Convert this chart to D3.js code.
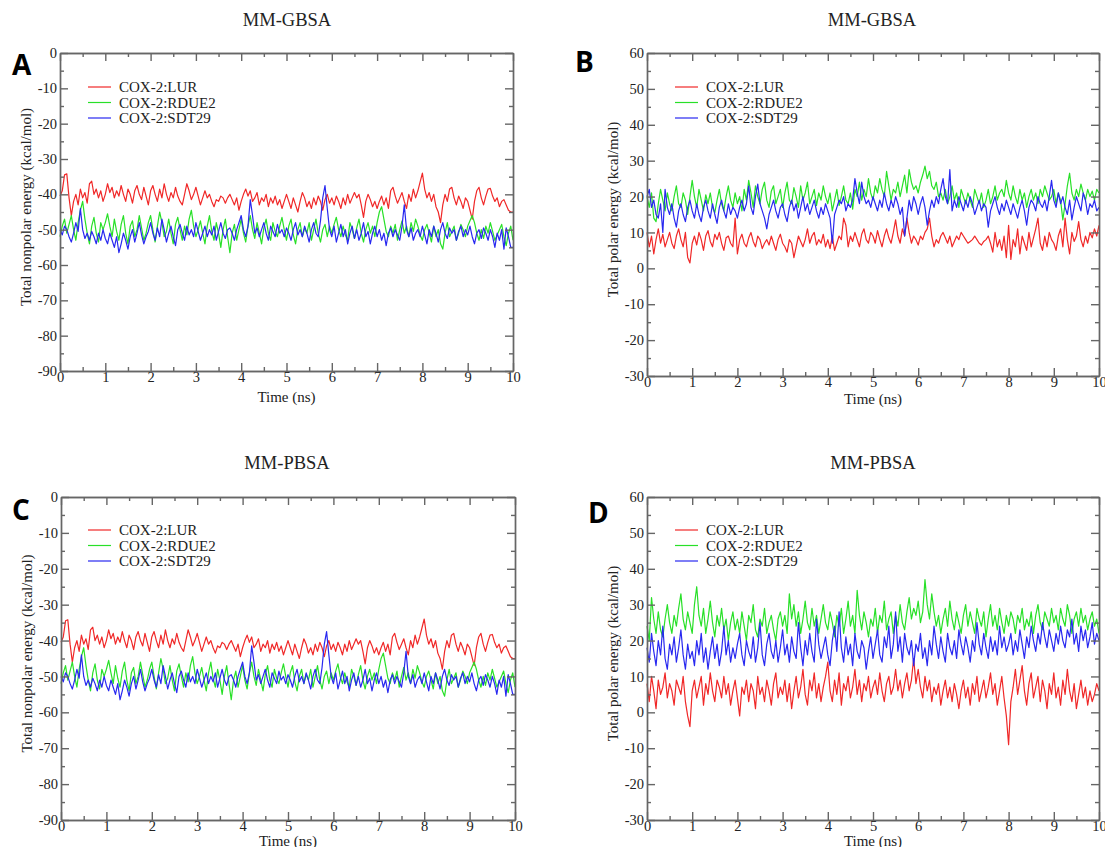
<!DOCTYPE html>
<html>
<head>
<meta charset="utf-8">
<script src="https://cdn.jsdelivr.net/npm/d3@7"></script>
<style>
  body { margin: 0; background: #fff; }
  svg text { font-family: "Liberation Serif", "Times New Roman", serif; fill: #222; }
  .panel-letter { font-family: "Open Sans", "DejaVu Sans", sans-serif !important; font-weight: 700; fill: #000 !important; }
</style>
</head>
<body>
<svg id="chart" width="1105" height="847"></svg>
<script>
// frames every 0.05 ns, 0..10 ns
const STEP_NS = 0.05;
const seriesNames = ["COX-2:LUR", "COX-2:RDUE2", "COX-2:SDT29"];
const seriesColors = ["#f02828", "#28e028", "#2828f0"];

// nonpolar energy (same term for GBSA and PBSA)
const nonpolarLur = [
  -40.5,-39,-34.5,-34.2,-41,-46,-42,-40,-43,-38.5,-41,-39.5,-42.5,-37,-36.3,-40,-38.5,-41,-39,-42,
  -40,-37,-39.5,-38,-41,-39,-40.5,-37.5,-40,-42,-38.5,-40,-42.5,-39,-37.5,-40,-41.5,-38,-40.5,-43,
  -39,-37.5,-40,-42,-38.5,-41,-37,-40,-42,-39.5,-41,-38,-40.5,-42,-43,-40,-37,-39,-41.5,-40,
  -38,-40.5,-43,-41,-39,-41,-40,-42,-43.5,-41.5,-42,-40.5,-41,-42.5,-41,-40,-41.5,-43,-41,-44.5,
  -42,-40,-38.5,-40.5,-39,-42,-41,-39.5,-43,-41,-42,-40,-43.5,-41,-42.5,-40.5,-43,-41.5,-44,-42,
  -40,-42,-44,-41,-43,-45,-42,-39.5,-41,-43.5,-42,-44,-41,-43,-40.5,-42,-44.5,-41.5,-40,-42.5,
  -41,-43,-40.5,-42,-44,-41,-43,-40,-42.5,-41,-39.5,-41,-40,-43,-46.5,-42,-40,-41.5,-43.5,-42,
  -44,-42,-40.5,-43,-41,-44,-39,-38,-40.5,-42.5,-41,-39.5,-42,-44,-40,-42,-38.5,-41,-39,-36.5,
  -34,-38.5,-41,-39.5,-42,-40,-43.5,-45,-48,-43,-40,-42,-38.5,-38,-41,-43,-40.5,-42,-44,-41,
  -42,-44.5,-47,-42,-39,-38,-41,-43,-40.5,-38.5,-38.3,-40.5,-42,-41,-43.5,-42,-41.5,-43,-44.5,-45,-45
];
const nonpolarRdue2 = [
  -52,-49,-47,-51,-48.5,-46,-50,-53,-48,-44.5,-42,-47,-51,-54,-49,-46.5,-51,-53.5,-48,-50,
  -48,-45.5,-49,-52,-47,-50.5,-53,-48.5,-46,-51,-54,-49,-47.5,-52,-50,-46,-49.5,-53,-51,-48,
  -46,-50,-53.5,-49,-45,-48,-52,-50.5,-47,-51,-54,-48.5,-46.5,-50,-53,-49,-51.5,-47,-44.5,-49,
  -52,-50,-47.5,-51,-54,-49,-46,-50.5,-53,-48,-51,-55,-50,-47,-52,-56.5,-51,-48.5,-53,-50,
  -47,-51,-53.5,-49,-46,-50,-52.5,-48,-51,-54,-49.5,-47,-51,-53,-48,-50.5,-52,-49,-46.5,-50,
  -53,-49,-47,-51.5,-54,-50,-48,-52,-49.5,-51,-48,-53,-50,-47,-51,-53.5,-50,-48.5,-52,-49,
  -51,-48.5,-46.5,-50,-52,-49,-51.5,-53,-48,-50,-52.5,-49.5,-47,-51,-53.5,-50,-48,-51,-49,-52,
  -48,-45,-43.5,-47,-50.5,-52,-49,-51,-48.5,-53,-50,-47.5,-51,-49,-52,-48,-50.5,-47,-49,-51.5,
  -53,-50,-48.5,-51,-53.5,-49,-52,-50,-54,-55.5,-51,-48,-52,-50.5,-49,-53,-51,-48.5,-50,-52,
  -49,-47.5,-46,-48,-51,-53,-50,-52.5,-49,-51,-48,-50.5,-53,-51.5,-50,-48.5,-52,-54.5,-51,-49,-53
];
const nonpolarSdt29 = [
  -50,-51.5,-49,-50,-52,-53.5,-51,-48,-50.5,-44,-50,-52.5,-51,-53,-50.5,-52,-54,-51,-53,-50,
  -52.5,-54,-51,-53,-55,-52,-56.5,-54,-51,-53,-55.5,-52,-50,-53.5,-51,-48,-51.5,-54,-52,-50.5,
  -48,-51,-53,-49.5,-52,-47,-50,-53.5,-51,-49,-52,-54.5,-50,-48.5,-51,-53,-49,-51.5,-50,-52,
  -48,-50.5,-53,-51,-49,-52,-50,-51.5,-49,-53,-50.5,-48,-51,-52.5,-50,-49.5,-51,-53,-50,-48,
  -46,-50,-52,-49,-41.5,-46,-51,-49.5,-52,-50,-48,-51,-53,-49,-50.5,-52,-48.5,-51,-50,-52,
  -49.5,-51,-53,-50,-48,-51.5,-50,-52,-49,-51,-53.5,-50,-48,-51,-52,-47.5,-41,-37.5,-44,-50,
  -52,-49,-53.5,-51,-48.5,-52,-50,-54,-51,-49,-52.5,-50,-53,-51,-48,-52,-50.5,-54,-51,-49,
  -52,-50,-53,-51,-54.5,-51,-49.5,-52,-50,-51.5,-53,-49,-43,-50,-52,-49.5,-53,-51,-50,-52,
  -49,-51.5,-54,-50,-52,-49,-51,-53.5,-50,-48,-51,-52.5,-49.5,-51,-50,-53,-50.5,-49,-52,-50,
  -51.5,-49,-52,-54,-51,-50,-52.5,-49.5,-51,-53,-50,-52,-55,-51,-53,-50,-55.5,-49.5,-52,-55,-55
];

// polar energy, MM-GBSA
const gbPolarLur = [
  10,6,9,4,8,11,7,9.5,6,8,10,7,5.5,9,11,8,6,10,3,1.5,
  7,9,6.5,10,8,5,9,10.5,7.5,6,9.5,8,10,7,5,8.5,9,7,6,14,
  4,8,9.5,7,6,8.5,10,7.5,6,9,8,5.5,7,8,6.5,9,7,5,8,9.5,
  7,6,4.5,8,7,3,6,9,7.5,6,8,11,7,9,10,6.5,8,7,9.5,6,
  8,5.5,9,5,7,9,8,14,12,6,9,7.5,10,8,6,9.5,11,8,7,10,
  9,7,10.5,8,6,9,11,8.5,7,10,13.5,9,7,11,9,14,10,7,9,8,
  6.5,9,8,10,11,14,9,6,8,7,9,10,8.5,7,9,6,7.5,9,8,10,
  9,8,7,7.5,8,9,8,7,6.5,7.5,8,9,7,4.5,10,6,8,5,9,3,
  12,2.5,8,6,11,4,9,7,5,10,6,8.5,11,14,7,5,9,6,10,8,
  7,5,9,11,6,14,8,4,10,7.5,9,13,8,6,9,7,10,8.5,11,9,12
];
const gbPolarRdue2 = [
  20,17,21,14,13,18,22,19,16,21,18,16,20,23,18,17,21,19,15,20,
  24.5,20,17,22,19,16,20.5,18,21,17,15.5,19,22,18,16,20,23,19,17,21,
  18,20,16,22,19,24.5,21,17,23,20,18,22,24,19,17,21.5,23,18,20,22,
  17,21,24,19,18,22.5,20,17,23,19,21,24,18,20,22,17.5,21,19,23,20,
  18,21,16,19,22,17.5,20,23,19,18,21,16.5,22,20,24,19,22,20,25,21,
  19,23,21,25,22,20,27,23,19,22,21,24,20,23,26,21,27.5,24,22,23,
  21,24,26,28.5,25,27,23,22,24,20,21,19,22,18,20,23,19,21,17,22,
  20,18,21,19,17,22,20,18,21,17,19,22,18,20,23,19,21,22,20,24.5,
  21,19,23,20,18,22,19,21,17,20,22,19,21,18,22,20,23,21,19,20,
  22,18,21,19,13.5,18,23,26.5,21,19,22,20,23.5,21,19,22,20,21.5,19,22,21
];
const gbPolarSdt29 = [
  20,22,17,19,15,14,18,10,22,17,15,18,14,11.5,16,18,15,13,17,19,
  16,14,18,15,13,17,19,16,14,18,15,12.5,17,19,16,14,18,15,17,16,
  14,17,19,16,18,23,17,15,20,23.5,18,16,14,11,15,17,19,16,14,17,
  18,15,13,17,19,16,18,14,17,20,16,18,15,17,19,16,14,17,15,18,
  16,14,7,15,17,19,18,20,16,18,17,19,25,21,18,24,20,18,19,17,
  20,18,16,19,17,21,18,16,19,17,20,18,15,17,9,14,19,16,20,18,
  15,18,20,17,12,16,19,17,20,18,22,25,20,18,27.5,16,19,17,20,18,
  16,19,17,20,18,15,17,19,16,18,17,11.5,16,18,20,17,15,18,16,19,
  17,15,18,16,14,17,19,16,12,17,19,18,16,20,18,17,19,16,20,24.5,
  19,17,21,18,20,17,15,19,13.5,17,20,18,16,21,19,15,18,17,19,16,17
];

// polar energy, MM-PBSA
const pbPolarLur = [
  8,3,10,6,1,9,5,7,11,4,8,6,2,9,7,5,10,3,-1,-4,
  6,9,4,7,10,2,8,5,11,6,3,9,7,4,10,5,8,2,6,9,
  4,-1,7,5,9,3,8,6,1,10,5,7,3,9,6,2,8,11,4,7,
  5,9,3,8,1,6,10,4,7,12,5,2,9,6,11,4,8,3,7,10,
  14,6,3,9,5,11,2,8,6,10,4,7,12,5,9,3,8,6,10,4,
  7,9,5,11,6,3,8,10,5,7,12,6,9,4,8,11,6,9,15,8,
  12,7,4,10,6,9,3,7,5,8,2,6,9,4,7,3,8,5,1,6,
  9,4,7,2,8,5,10,3,6,9,4,7,11,5,8,2,6,10,4,-1,
  -9,3,7,12,5,9,13,6,2,8,11,4,7,10,3,9,6,1,8,5,
  11,4,7,2,9,5,12,6,3,8,1,5,9,4,7,2,6,3,5,8,6
];
const pbPolarRdue2 = [
  24,20,32,26,22,28,23,21,26,30,25,22,27,24,29,33,26,23,28,25,
  22,30,35,27,24,29,22,26,31,25,21,27,24,29,23,26,20,25,28,23,
  26,22,28,24,20,27,25,30,23,21,26,24,29,22,25,27,23,20,26,28,
  24,27,22,33,26,30,24,28,22,26,31,25,23,29,24,27,22,26,30,25,
  23,28,25,21,27,24,29,22,26,31,24,27,22,34,27,23,28,25,21,26,
  24,29,22,27,25,31,23,26,28,22,27,24,30,25,23,28,32,26,29,27,
  31,25,28,37,30,26,33,28,24,27,22,26,29,24,31,26,23,28,25,22,
  27,30,24,28,25,22,29,26,24,28,21,26,30,24,27,23,29,25,22,27,
  24,28,26,22,27,25,29,23,26,24,28,22,27,30,25,23,28,26,24,29,
  25,27,23,29,26,24,30,27,22,26,28,24,29,25,27,23,26,28,24,26,22
];
const pbPolarSdt29 = [
  18,14,22,17,13,20,16,24,15,12,19,16,21,14,18,23,16,12,19,15,
  17,13,20,16,22,14,18,12,17,21,15,19,13,17,24,16,20,14,18,15,
  19,22,16,13,20,17,15,21,14,18,25,16,13,19,22,17,15,20,14,18,
  23,16,19,14,21,17,15,25,18,13,20,16,22,17,14,26,19,15,18,21,
  16,13,20,24,17,28,18,14,21,16,19,13,22,17,15,20,18,12,17,21,
  15,19,23,16,14,21,18,24,15,19,28,17,21,14,22,18,16,20,13,19,
  17,22,15,18,13,20,16,24,19,15,21,17,14,22,18,16,20,15,23,19,
  16,21,18,14,20,17,25,19,16,22,18,15,21,17,20,16,24,18,21,17,
  19,22,16,20,17,23,19,15,21,18,24,20,17,22,19,25,21,18,23,20,
  17,22,19,24,20,18,23,21,26,19,22,17,24,20,23,18,21,25,19,22,20
];

const xTicks = [0,1,2,3,4,5,6,7,8,9,10];
const nonpolarTicks = [0,-10,-20,-30,-40,-50,-60,-70,-80,-90];
const polarTicks = [60,50,40,30,20,10,0,-10,-20,-30];

const svg = d3.select("#chart");

// panel layout
const panels = [
  {letter: "A", lx: 12, ly: 75, title: "MM-GBSA", tx: 287, ty: 26,
   box: {left: 60, top: 53, right: 513, bottom: 371}, xTitleGap: 31, yDomain: [-90, 0], yTicks: nonpolarTicks,
   yLabel: "Total nonpolar energy (kcal/mol)", legX: 88, legY: 87,
   data: [nonpolarLur, nonpolarRdue2, nonpolarSdt29]},
  {letter: "B", lx: 575, ly: 72, title: "MM-GBSA", tx: 872, ty: 26,
   box: {left: 647, top: 53, right: 1099, bottom: 376}, xTitleGap: 28, yDomain: [-30, 60], yTicks: polarTicks,
   yLabel: "Total polar energy (kcal/mol)", legX: 675, legY: 87,
   data: [gbPolarLur, gbPolarRdue2, gbPolarSdt29]},
  {letter: "C", lx: 12, ly: 520, title: "MM-PBSA", tx: 287, ty: 469,
   box: {left: 61, top: 497, right: 515, bottom: 820}, xTitleGap: 26, yDomain: [-90, 0], yTicks: nonpolarTicks,
   yLabel: "Total nonpolar energy (kcal/mol)", legX: 88, legY: 530,
   data: [nonpolarLur, nonpolarRdue2, nonpolarSdt29]},
  {letter: "D", lx: 588, ly: 523, title: "MM-PBSA", tx: 873, ty: 469,
   box: {left: 647, top: 497, right: 1099, bottom: 820}, xTitleGap: 26, yDomain: [-30, 60], yTicks: polarTicks,
   yLabel: "Total polar energy (kcal/mol)", legX: 675, legY: 530,
   data: [pbPolarLur, pbPolarRdue2, pbPolarSdt29]}
];

const fmt = d => String(d);

function drawPanel(p) {
  const b = p.box;
  const x = d3.scaleLinear().domain([0, 10]).range([b.left, b.right]);
  const y = d3.scaleLinear().domain(p.yDomain).range([b.bottom, b.top]);
  const xMinor = d3.range(0.5, 10, 1);
  const yMinor = y.ticks(18).filter(v => v % 10 !== 0);

  const g = svg.append("g");

  // series
  const line = d3.line()
    .x((d, i) => x(i * STEP_NS))
    .y(d => y(d));
  p.data.forEach((s, k) => {
    g.append("path")
      .datum(s)
      .attr("fill", "none")
      .attr("stroke", seriesColors[k])
      .attr("stroke-width", 1.2)
      .attr("stroke-linejoin", "round")
      .attr("d", line);
  });

  // axes, ticks inward on all four sides
  const axes = [
    {ax: d3.axisBottom(x).tickValues(xTicks).tickFormat(fmt), tr: [0, b.bottom], lab: 1},
    {ax: d3.axisTop(x).tickValues(xTicks).tickFormat(""), tr: [0, b.top]},
    {ax: d3.axisLeft(y).tickValues(p.yTicks).tickFormat(fmt), tr: [b.left, 0], lab: 3},
    {ax: d3.axisRight(y).tickValues(p.yTicks).tickFormat(""), tr: [b.right, 0]},
    {ax: d3.axisBottom(x).tickValues(xMinor).tickFormat(""), tr: [0, b.bottom], minor: true},
    {ax: d3.axisTop(x).tickValues(xMinor).tickFormat(""), tr: [0, b.top], minor: true},
    {ax: d3.axisLeft(y).tickValues(yMinor).tickFormat(""), tr: [b.left, 0], minor: true},
    {ax: d3.axisRight(y).tickValues(yMinor).tickFormat(""), tr: [b.right, 0], minor: true}
  ];
  axes.forEach(a => {
    a.ax.tickSizeInner(a.minor ? -4 : -8).tickSizeOuter(0).tickPadding(a.lab || 0);
    const ag = g.append("g")
      .attr("transform", "translate(" + a.tr[0] + "," + a.tr[1] + ")")
      .call(a.ax);
    ag.selectAll("path, line").attr("stroke", "#666").attr("stroke-width", 1.4);
    ag.selectAll("text").attr("font-size", 14.5).attr("fill", "#222")
      .style("font-family", "'Liberation Serif', serif");
  });

  // axis titles
  g.append("text")
    .attr("x", (b.left + b.right) / 2)
    .attr("y", b.bottom + p.xTitleGap)
    .attr("text-anchor", "middle")
    .attr("font-size", 15)
    .text("Time (ns)");

  g.append("text")
    .attr("transform", "translate(" + (b.left - 29) + "," + ((b.top + b.bottom) / 2 - 5) + ") rotate(-90)")
    .attr("text-anchor", "middle")
    .attr("font-size", 15)
    .text(p.yLabel);

  // title and panel letter
  svg.append("text")
    .attr("x", p.tx).attr("y", p.ty)
    .attr("text-anchor", "middle")
    .attr("font-size", 18.5)
    .text(p.title);

  svg.append("text")
    .attr("class", "panel-letter")
    .attr("x", p.lx).attr("y", p.ly)
    .attr("font-size", 28)
    .text(p.letter);

  // legend
  seriesNames.forEach((name, k) => {
    const ly = p.legY + k * 15.5;
    g.append("line")
      .attr("x1", p.legX).attr("x2", p.legX + 23)
      .attr("y1", ly).attr("y2", ly)
      .attr("stroke", seriesColors[k])
      .attr("stroke-width", 1.2);
    g.append("text")
      .attr("x", p.legX + 31).attr("y", ly + 5)
      .attr("font-size", 15)
      .text(name);
  });
}

panels.forEach(drawPanel);
</script>
</body>
</html>
